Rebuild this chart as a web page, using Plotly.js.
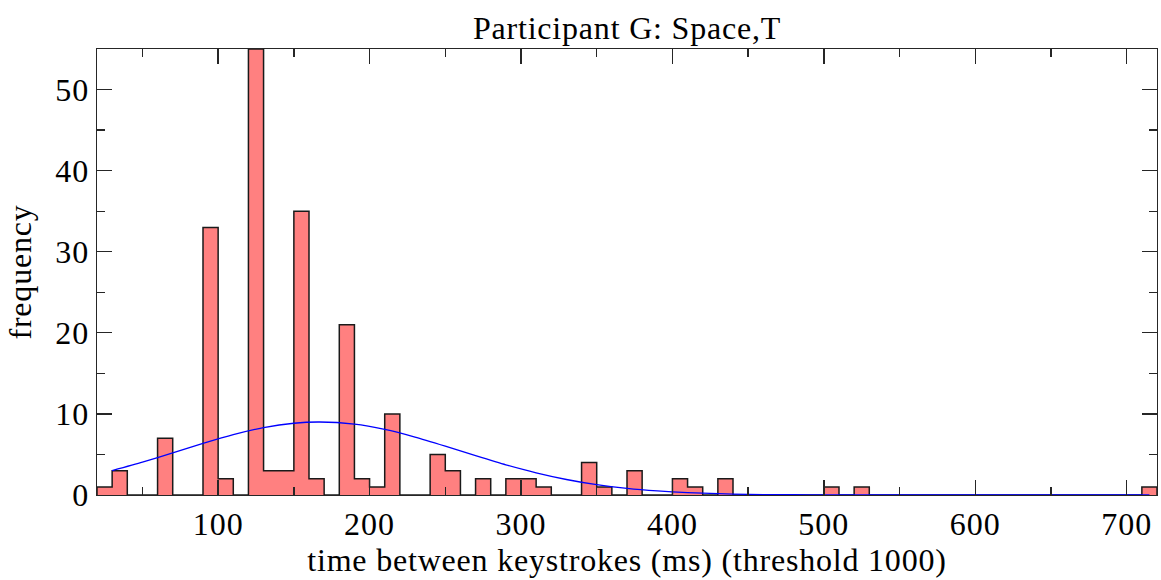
<!DOCTYPE html>
<html>
<head>
<meta charset="utf-8">
<script src="https://cdn.plot.ly/plotly-3.0.1.min.js"></script>
<style>
  html, body { margin: 0; padding: 0; background: #ffffff; }
  #chart { width: 1161px; height: 580px; }
  .gtitle, .xtitle, .ytitle { letter-spacing: 0.8px; }
  .xtick text, .ytick text { letter-spacing: 1px; }
</style>
</head>
<body>
<div id="chart"></div>
<script>
// Histogram: 70 bins of 10 ms starting at 20 ms
const binStart = 20;
const binWidth = 10;
const counts = [
  1, 3, 0, 0, 7, 0, 0, 33, 2, 0,
  55, 3, 3, 35, 2, 0, 21, 2, 1, 10,
  0, 0, 5, 3, 0, 2, 0, 2, 2, 1,
  0, 0, 4, 1, 0, 3, 0, 0, 2, 1,
  0, 2, 0, 0, 0, 0, 0, 0, 1, 0,
  1, 0, 0, 0, 0, 0, 0, 0, 0, 0,
  0, 0, 0, 0, 0, 0, 0, 0, 0, 1
];

// Fitted normal curve
const fitX = [30, 50, 70, 90, 110, 130, 150, 167, 190, 210, 230, 250, 270, 290, 310, 330, 350, 370, 390, 410, 430, 450, 470, 490, 510, 540, 600, 660, 715];
const fitY = [3.01, 4.05, 5.20, 6.37, 7.45, 8.31, 8.85, 9.00, 8.73, 8.08, 7.14, 6.02, 4.85, 3.72, 2.73, 1.91, 1.27, 0.81, 0.50, 0.29, 0.16, 0.08, 0.04, 0.02, 0.01, 0.003, 0, 0, 0];

const titleText = "Participant G: Space,T";
const xLabel = "time between keystrokes (ms) (threshold 1000)";
const yLabel = "frequency";
const xTicks = [100, 200, 300, 400, 500, 600, 700];
const yTicks = [0, 10, 20, 30, 40, 50];

const centers = counts.map((_, i) => binStart + binWidth * (i + 0.5));
const edges = counts.map((_, i) => binStart + binWidth * i);
const stepX = [binStart].concat(edges, [binStart + binWidth * counts.length, binStart + binWidth * counts.length]);
const stepY = [0].concat(counts, [counts[counts.length - 1], 0]);

const FONT = "Liberation Serif, Times New Roman, serif";

const traces = [
  {
    type: "bar",
    x: centers,
    y: counts,
    width: binWidth,
    marker: { color: "#ff8080", line: { width: 0 } },
    hoverinfo: "x+y",
    showlegend: false
  },
  {
    type: "scatter",
    mode: "lines",
    x: stepX,
    y: stepY,
    line: { color: "#1a1a1a", width: 1.5, shape: "hv" },
    hoverinfo: "skip",
    showlegend: false
  },
  {
    type: "scatter",
    mode: "lines",
    x: fitX,
    y: fitY,
    line: { color: "#0000ff", width: 1.3, shape: "spline", smoothing: 0.6 },
    hoverinfo: "skip",
    showlegend: false
  }
];

const axisCommon = {
  showgrid: false,
  zeroline: false,
  showline: true,
  linecolor: "#262626",
  linewidth: 1.3,
  mirror: "allticks",
  ticks: "inside",
  tickcolor: "#262626",
  tickwidth: 1.3,
  ticklen: 15,
  tickfont: { family: FONT, size: 32, color: "#000000" }
};

const layout = {
  width: 1161,
  height: 580,
  margin: { l: 97, r: 4, t: 49, b: 85 },
  paper_bgcolor: "#ffffff",
  plot_bgcolor: "#ffffff",
  bargap: 0,
  font: { family: FONT, color: "#000000" },
  title: {
    text: titleText,
    font: { family: FONT, size: 32, color: "#000000" },
    x: 0.5,
    xref: "paper",
    y: 0.952,
    yref: "container",
    yanchor: "middle"
  },
  xaxis: Object.assign({}, axisCommon, {
    range: [binStart, binStart + binWidth * counts.length],
    tickvals: xTicks,
    ticktext: xTicks.map(String),
    minor: { dtick: 50, tick0: 0, ticks: "inside", ticklen: 8, tickcolor: "#262626", tickwidth: 1.3 },
    title: { text: xLabel, font: { family: FONT, size: 32, color: "#000000" }, standoff: 4 }
  }),
  yaxis: Object.assign({}, axisCommon, {
    range: [0, 55],
    tickvals: yTicks,
    ticktext: yTicks.map(String),
    minor: { dtick: 5, tick0: 0, ticks: "inside", ticklen: 8, tickcolor: "#262626", tickwidth: 1.3 },
    title: { text: yLabel, font: { family: FONT, size: 32, color: "#000000" }, standoff: 14 }
  })
};

Plotly.newPlot("chart", traces, layout, { displayModeBar: false, staticPlot: true });
</script>
</body>
</html>
